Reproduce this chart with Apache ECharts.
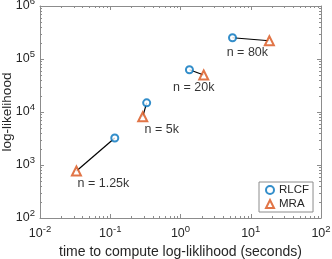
<!DOCTYPE html>
<html><head><meta charset="utf-8">
<script src="https://cdn.jsdelivr.net/npm/echarts@6/dist/echarts.min.js"></script>
<style>html,body{margin:0;padding:0;background:#fff}#c{width:332px;height:259px}</style>
</head><body><div id="c"></div>
<script>
const sizes = ['1.25k', '5k', '20k', '80k'];
const rlcfTime = [0.116, 0.33, 1.34, 5.5];
const rlcfLL = [3230, 14900, 62800, 252000];
const mraTime = [0.033, 0.29, 2.14, 18.4];
const mraLL = [770, 8150, 49900, 221000];
const xTicks = [0.01, 0.1, 1, 10, 100];
const yTicks = [100, 1000, 10000, 100000, 1000000];

const labelOffsets = [[27, 13], [19, 13], [-10, 13], [-22, 12]];
const FONT = 'Liberation Sans, Arial, Helvetica, sans-serif';
const AX = '#8c8c8c';
const TXT = '#262626';

function supFmt(v) {
  const e = Math.round(Math.log10(v));
  return '{b|10}{s|' + e + '}';
}
const rich = {
  b: {fontSize: 12.5, fontFamily: FONT, color: TXT},
  s: {fontSize: 9.5, fontFamily: FONT, color: TXT, verticalAlign: 'top', padding: [0, 0, 9, 0]}
};

// minor ticks
const xMinor = [], yMinor = [];
for (let d = -2; d < 2; d++) for (let k = 2; k <= 9; k++) xMinor.push(k * Math.pow(10, d));
for (let d = 2; d < 6; d++) for (let k = 2; k <= 9; k++) yMinor.push(k * Math.pow(10, d));

const chart = echarts.init(document.getElementById('c'), null, {renderer: 'canvas'});

const axCommon = {
  type: 'log', logBase: 10,
  axisLine: {show: true, lineStyle: {color: AX, width: 1}},
  axisTick: {show: true, inside: true, length: 4, lineStyle: {color: AX}},
  splitLine: {show: false},
  minorTick: {show: false},
  nameMoveOverlap: false
};

const lineSeries = sizes.map((s, i) => ({
  type: 'line', xAxisIndex: 0, yAxisIndex: 0,
  data: [[rlcfTime[i], rlcfLL[i]], [mraTime[i], mraLL[i]]],
  symbol: 'none', lineStyle: {color: '#000', width: 1.2}, z: 2, silent: true
}));

const minorSeries = {
  type: 'custom', xAxisIndex: 0, yAxisIndex: 0, silent: true, z: 1,
  data: xMinor.map(v => ['x', v]).concat(yMinor.map(v => ['y', v])),
  encode: {x: -1, y: -1},
  renderItem: function (params, api) {
    const kind = api.value(0);
    const v = api.value(1);
    const cs = params.coordSys;
    const L = 2;
    let lines;
    if (kind === 'x') {
      const p = api.coord([v, 100]);
      const x = Math.round(p[0]) + 0.5;
      lines = [[x, cs.y + cs.height, x, cs.y + cs.height - L], [x, cs.y, x, cs.y + L]];
    } else {
      const p = api.coord([0.01, v]);
      const y = Math.round(p[1]) + 0.5;
      lines = [[cs.x, y, cs.x + L, y], [cs.x + cs.width, y, cs.x + cs.width - L, y]];
    }
    return {type: 'group', children: lines.map(l => ({
      type: 'line', shape: {x1: l[0], y1: l[1], x2: l[2], y2: l[3]},
      style: {stroke: AX, lineWidth: 1}
    }))};
  }
};

const option = {
  animation: false,
  backgroundColor: '#fff',
  textStyle: {fontFamily: FONT},
  grid: {left: 40, right: 11, top: 6, bottom: 41, containLabel: false, outerBoundsMode: 'none'},
  xAxis: [
    Object.assign({}, axCommon, {
      position: 'bottom', min: xTicks[0], max: xTicks[xTicks.length - 1],
      axisLabel: {formatter: supFmt, rich: rich, margin: 6},
      name: 'time to compute log-liklihood (seconds)', nameLocation: 'middle', nameGap: 27,
      nameTextStyle: {fontSize: 14, color: TXT, fontFamily: FONT}
    }),
    Object.assign({}, axCommon, {
      position: 'top', min: xTicks[0], max: xTicks[xTicks.length - 1], axisLabel: {show: false}
    })
  ],
  yAxis: [
    Object.assign({}, axCommon, {
      position: 'left', min: yTicks[0], max: yTicks[yTicks.length - 1],
      axisLabel: {formatter: supFmt, rich: rich, margin: 5},
      name: 'log-likelihood', nameLocation: 'middle', nameGap: 26,
      nameTextStyle: {fontSize: 13.5, color: TXT, fontFamily: FONT}
    }),
    Object.assign({}, axCommon, {
      position: 'right', min: yTicks[0], max: yTicks[yTicks.length - 1], axisLabel: {show: false}
    })
  ],
  legend: {
    orient: 'vertical', left: 259, top: 182, width: 56,
    padding: [2, 4, 2, 6], itemGap: 2, itemWidth: 8, itemHeight: 8,
    borderColor: AX, borderWidth: 1, backgroundColor: '#fff', borderRadius: 0,
    textStyle: {fontSize: 11.5, color: TXT, fontFamily: FONT, padding: [0, 0, 0, 0]},
    data: ['RLCF', 'MRA']
  },
  series: lineSeries.concat([
    minorSeries,
    {
      name: 'RLCF', type: 'scatter', xAxisIndex: 0, yAxisIndex: 0, z: 5,
      data: rlcfTime.map((t, i) => [t, rlcfLL[i]]),
      symbol: 'emptyCircle', symbolSize: 7,
      itemStyle: {color: '#0072BD', borderColor: '#0072BD', borderWidth: 1.3}
    },
    {
      name: 'MRA', type: 'scatter', xAxisIndex: 0, yAxisIndex: 0, z: 5,
      data: mraTime.map((t, i) => [t, mraLL[i]]),
      symbol: 'emptyTriangle', symbolSize: 9,
      itemStyle: {color: '#D95319', borderColor: '#D95319', borderWidth: 1.3}
    },
    {
      type: 'scatter', xAxisIndex: 0, yAxisIndex: 0, z: 6, silent: true,
      symbolSize: 0,
      data: mraTime.map((t, i) => ({
        value: [t, mraLL[i]],
        label: {show: true, formatter: 'n = ' + sizes[i], position: 'inside', offset: labelOffsets[i],
          fontSize: 12.5, color: '#000', fontFamily: FONT}
      }))
    }
  ])
};
chart.setOption(option);
</script>
</body></html>
